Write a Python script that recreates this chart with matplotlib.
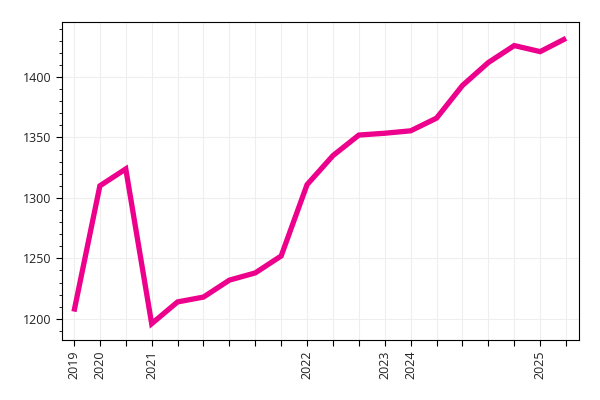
import matplotlib
matplotlib.use("Agg")
import matplotlib.pyplot as plt
from matplotlib.ticker import MultipleLocator

plt.rcParams['font.family'] = ['Open Sans', 'DejaVu Sans']

values = [1206, 1310, 1324, 1196, 1214, 1218, 1232, 1238, 1252, 1311,
          1335, 1352, 1353.5, 1355.5, 1366, 1393, 1412, 1426, 1421, 1432]
tick_labels = ["2019", "2020", "", "2021", "", "", "", "", "", "2022",
               "", "", "2023", "2024", "", "", "", "", "2025", ""]

x = list(range(len(values)))

fig = plt.figure(figsize=(6, 4), dpi=100)
ax = fig.add_axes([0.103, 0.15, 0.862, 0.795])
ax.plot(x, values, color='#EC008C', linewidth=3.8, solid_joinstyle='miter', solid_capstyle='butt', zorder=3)
ax.set_xlim(-0.47, 19.5)
ax.set_ylim(1182.5, 1445.5)
ax.set_xticks(x)
ax.set_xticklabels(tick_labels, rotation=90, fontsize=9, color='#222222')
ax.yaxis.set_major_locator(MultipleLocator(50))
ax.yaxis.set_minor_locator(MultipleLocator(10))
ax.tick_params(axis='y', labelsize=9, labelcolor='#222222', length=4)
ax.tick_params(axis='y', which='minor', length=2)
ax.tick_params(axis='x', length=4)
ax.grid(True, which='major', color='#eeeeee', linewidth=0.8)
ax.set_axisbelow(True)
fig.savefig('out.png', dpi=100)
